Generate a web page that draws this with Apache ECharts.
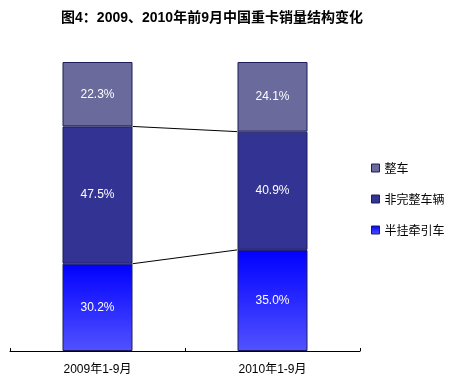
<!DOCTYPE html>
<html><head><meta charset="utf-8">
<script src="https://cdn.jsdelivr.net/npm/echarts@6/dist/echarts.min.js"></script>
<style>html,body{margin:0;padding:0;background:#fff}#c{width:455px;height:382px}</style>
</head><body><div id="c"></div>
<script>
const categories = ['2009年1-9月', '2010年1-9月'];
const seriesNames = ['整车', '非完整车辆', '半挂牵引车'];
const tractor = [30.2, 35.0];      // 半挂牵引车 (bottom)
const incomplete = [47.5, 40.9];   // 非完整车辆 (middle)
const complete = [22.3, 24.1];     // 整车 (top)
const titleText = '图4：2009、2010年前9月中国重卡销量结构变化';

const cumLow = tractor;
const cumMid = tractor.map((v, i) => v + incomplete[i]);
const connectors = [[0, cumMid[0], cumMid[1]], [0, cumLow[0], cumLow[1]]];

const chart = echarts.init(document.getElementById('c'));
const border = { borderColor: '#1c1c5a', borderWidth: 1 };
const lbl = { show: true, position: 'inside', color: '#fff', fontSize: 12, fontFamily: 'Liberation Sans, Arial, sans-serif', formatter: p => p.value.toFixed(1) + '%' };
const BW = 0.4;
chart.setOption({
  backgroundColor: '#fff',
  animation: false,
  title: { text: titleText, left: 207, textAlign: 'center', top: 6, textStyle: { fontSize: 14, fontWeight: 'bold', color: '#000', fontFamily: 'Liberation Sans, Noto Sans CJK SC, sans-serif' } },
  legend: {
    orient: 'vertical', left: 366, top: 157, itemGap: 19, itemWidth: 8, itemHeight: 8,
    data: seriesNames.map(n => ({ name: n, icon: 'rect' })),
    textStyle: { fontSize: 12, color: '#000', fontFamily: 'Noto Sans CJK SC, sans-serif' },
    itemStyle: { borderColor: '#1c1c5a', borderWidth: 1 }
  },
  grid: { left: 10, right: 95, top: 62, bottom: 31 },
  xAxis: {
    type: 'category', data: categories,
    axisLine: { lineStyle: { color: '#000', width: 1 } },
    axisTick: { show: true, inside: true, length: 3, lineStyle: { color: '#000' } },
    axisLabel: { color: '#000', fontSize: 12, margin: 13, fontFamily: 'Liberation Sans, Noto Sans CJK SC, sans-serif' }
  },
  yAxis: { type: 'value', min: 0, max: 100, show: false, splitLine: { show: false } },
  series: [
    { name: '半挂牵引车', type: 'bar', stack: 's', barWidth: (BW * 100) + '%', data: tractor, label: lbl,
      itemStyle: Object.assign({ color: new echarts.graphic.LinearGradient(0, 0, 0, 1, [{ offset: 0, color: '#0000ff' }, { offset: 1, color: '#5252ff' }]) }, border) },
    { name: '非完整车辆', type: 'bar', stack: 's', data: incomplete, label: lbl,
      itemStyle: Object.assign({ color: '#333394' }, border) },
    { name: '整车', type: 'bar', stack: 's', data: complete, label: lbl,
      itemStyle: Object.assign({ color: '#6a6a9c' }, border) },
    { type: 'custom', name: 'connector', data: connectors, encode: { x: 0, y: [1, 2] }, z: 5,
      renderItem: (params, api) => {
        const band = api.size([1, 0])[0];
        const half = band * BW / 2;
        const p1 = api.coord([0, api.value(1)]);
        const p2 = api.coord([1, api.value(2)]);
        return { type: 'line', shape: { x1: p1[0] + half, y1: p1[1], x2: p2[0] - half, y2: p2[1] }, style: { stroke: '#000', lineWidth: 1 } };
      } }
  ]
});
</script></body></html>
